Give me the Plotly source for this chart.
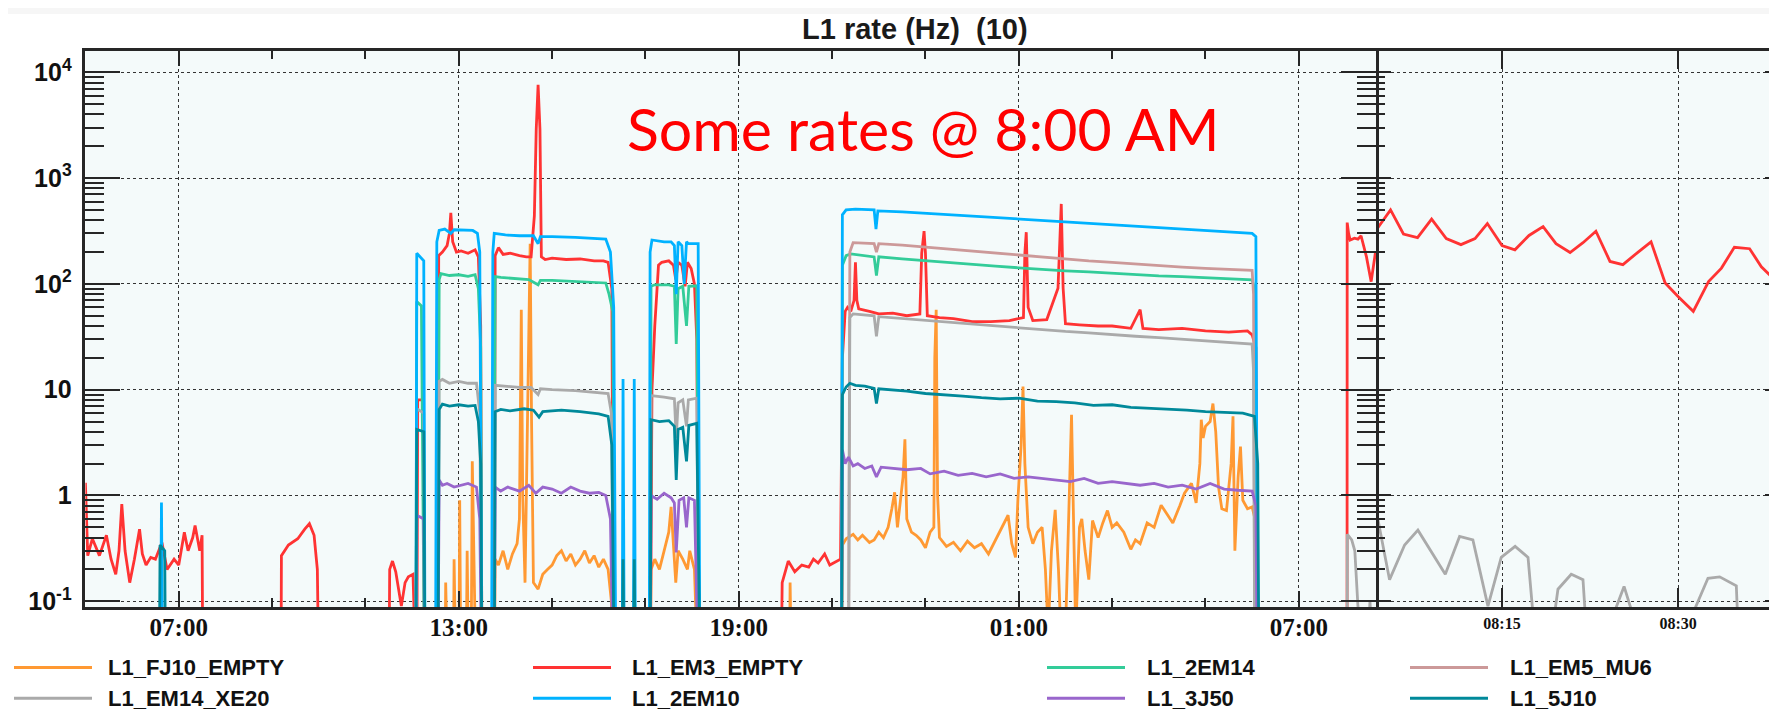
import plotly.graph_objects as go
from datetime import datetime, timedelta

W, H = 1777, 711
BASE = datetime(2015, 6, 1)

# ---------------- data (hours since 00:00 of day 1, rate in Hz) ----------------
names = ["L1_FJ10_EMPTY", "L1_EM3_EMPTY", "L1_2EM14", "L1_EM5_MU6",
         "L1_EM14_XE20", "L1_2EM10", "L1_3J50", "L1_5J10"]
colors = ["#ff9933", "#ff3333", "#33cc99", "#cc9999",
          "#aaaaaa", "#00b2ff", "#9966cc", "#00899a"]
OFF = 0.01  # below the displayed range (rate ~ 0)

fj10_empty = [
    (12.55, OFF), (12.7, OFF), (12.72, 0.15), (12.78, OFF), (12.88, OFF), (12.9, 0.25), (12.95, OFF),
    (13.0, OFF), (13.02, 0.9), (13.05, OFF), (13.15, OFF), (13.18, 0.3), (13.22, OFF), (13.26, OFF),
    (13.29, 2.1), (13.33, 0.2), (13.38, OFF),
    (13.76, OFF), (13.78, 0.25), (13.85, 0.22), (13.95, 0.3), (14.05, 0.2), (14.15, 0.28), (14.25, 0.35),
    (14.3, 0.6), (14.34, 57), (14.37, 1.0), (14.42, 0.15), (14.47, 4), (14.5, 15), (14.53, 240), (14.56, 5),
    (14.6, 0.15), (14.7, 0.13), (14.8, 0.18), (14.9, 0.2), (15.0, 0.22), (15.1, 0.27), (15.2, 0.3),
    (15.3, 0.24), (15.4, 0.28), (15.5, 0.22), (15.6, 0.25), (15.7, 0.3), (15.8, 0.23), (15.9, 0.27),
    (16.0, 0.21), (16.1, 0.25), (16.2, 0.2), (16.27, 0.1), (16.3, OFF),
    (17.1, OFF), (17.12, 0.2), (17.2, 0.25), (17.3, 0.2), (17.4, 0.3), (17.5, 0.45), (17.55, 0.78),
    (17.6, 0.35), (17.65, 0.15), (17.7, 0.3), (17.8, 0.25), (17.9, 0.2), (17.95, 0.3), (18.05, 0.2),
    (18.15, OFF),
    (20.08, OFF), (20.1, 0.15), (20.14, OFF),
    (21.2, OFF), (21.22, 0.34), (21.3, 0.39), (21.45, 0.43), (21.55, 0.38), (21.65, 0.42), (21.8, 0.36),
    (21.9, 0.38), (22.0, 0.45), (22.1, 0.4), (22.2, 0.5), (22.28, 0.75), (22.34, 1.07), (22.4, 0.5),
    (22.45, 0.8), (22.52, 1.5), (22.56, 3.4), (22.6, 0.6), (22.7, 0.45), (22.8, 0.42), (22.9, 0.38),
    (23.0, 0.32), (23.1, 0.45), (23.18, 0.5), (23.2, 20), (23.23, 57), (23.26, 1.0), (23.3, 0.4),
    (23.45, 0.33), (23.6, 0.36), (23.75, 0.3), (23.9, 0.37), (24.05, 0.32), (24.2, 0.35), (24.35, 0.28),
    (24.5, 0.38), (24.65, 0.5), (24.77, 0.65), (24.85, 0.35), (24.93, 0.26), (24.98, 0.9), (25.05, 3),
    (25.09, 10.7), (25.13, 2), (25.2, 0.5), (25.3, 0.35), (25.4, 0.45), (25.5, 0.5), (25.57, 0.2),
    (25.63, 0.05), (25.7, 0.3), (25.78, 0.73), (25.85, 0.2), (25.9, 0.05), (26.0, 0.05), (26.08, 1.0),
    (26.13, 5.8), (26.18, 0.4), (26.22, 0.05), (26.3, 0.5), (26.35, 0.6), (26.42, 0.3), (26.5, 0.16),
    (26.58, 0.58), (26.7, 0.4), (26.8, 0.55), (26.9, 0.72), (27.0, 0.5), (27.1, 0.55), (27.25, 0.45),
    (27.4, 0.31), (27.5, 0.38), (27.6, 0.35), (27.75, 0.55), (27.9, 0.5), (28.05, 0.81), (28.15, 0.7),
    (28.3, 0.55), (28.45, 0.8), (28.55, 1.05), (28.7, 1.3), (28.8, 0.85), (28.88, 2), (28.91, 5.2),
    (28.95, 3.5), (29.0, 4.5), (29.1, 5), (29.16, 7.4), (29.22, 4), (29.28, 1.2), (29.35, 0.75),
    (29.45, 0.72), (29.55, 2), (29.59, 5.6), (29.63, 0.3), (29.7, 1.5), (29.75, 2.9), (29.8, 0.9),
    (29.9, 0.75), (30.0, 0.78), (30.06, 0.6), (30.1, 0.2), (30.12, OFF),
]

em3_empty = [
    (5.0, 1.32), (5.05, 0.27), (5.15, 0.39), (5.3, 0.27), (5.45, 0.42), (5.55, 0.25), (5.65, 0.18),
    (5.72, 0.3), (5.78, 0.83), (5.85, 0.3), (5.95, 0.15), (6.05, 0.25), (6.16, 0.48), (6.22, 0.28),
    (6.3, 0.22), (6.4, 0.26), (6.5, 0.25), (6.64, 0.36), (6.75, 0.2), (6.9, 0.25), (7.0, 0.22),
    (7.12, 0.45), (7.2, 0.3), (7.3, 0.4), (7.35, 0.52), (7.45, 0.3), (7.5, 0.42), (7.52, OFF),
    (9.19, OFF), (9.2, 0.27), (9.35, 0.34), (9.55, 0.39), (9.7, 0.48), (9.8, 0.54), (9.9, 0.42),
    (9.97, 0.2), (10.01, OFF),
    (11.5, OFF), (11.52, 0.2), (11.58, 0.24), (11.65, 0.19), (11.72, 0.12), (11.77, 0.09), (11.85, 0.15),
    (11.92, 0.17), (12.02, 0.18), (12.06, OFF),
    (12.1, OFF), (12.12, 8), (12.24, 8), (12.27, OFF),
    (12.55, OFF), (12.57, 185), (12.65, 200), (12.75, 230), (12.8, 300), (12.83, 470), (12.87, 250),
    (12.95, 200), (13.05, 205), (13.2, 195), (13.35, 210), (13.42, 180), (13.47, 40), (13.5, OFF),
    (13.76, OFF), (13.78, 185), (13.85, 220), (13.95, 190), (14.1, 195), (14.3, 185), (14.45, 180),
    (14.55, 180), (14.62, 440), (14.66, 2900), (14.7, 7600), (14.74, 2900), (14.77, 180), (14.85, 170),
    (15.0, 175), (15.3, 170), (15.6, 172), (15.9, 165), (16.1, 165), (16.2, 160), (16.28, 90),
    (16.32, OFF),
    (17.1, OFF), (17.14, 10), (17.2, 40), (17.28, 150), (17.35, 160), (17.5, 165), (17.6, 150),
    (17.65, 110), (17.7, 160), (17.78, 150), (17.85, 95), (17.9, 160), (17.98, 140), (18.05, 100),
    (18.1, 30), (18.15, OFF),
    (19.9, OFF), (19.93, 0.15), (20.0, 0.2), (20.06, 0.24), (20.2, 0.19), (20.35, 0.22), (20.5, 0.21),
    (20.6, 0.25), (20.7, 0.23), (20.84, 0.28), (20.95, 0.22), (21.1, 0.24), (21.18, 0.25),
    (21.22, 20), (21.28, 55), (21.33, 60), (21.4, 55), (21.47, 70), (21.5, 160), (21.53, 70),
    (21.57, 58), (21.8, 55), (22.0, 52), (22.3, 53), (22.6, 50), (22.88, 52), (22.92, 195), (22.97, 315),
    (23.0, 195), (23.04, 50), (23.3, 48), (23.6, 47), (24.0, 44), (24.4, 44), (24.8, 45), (25.1, 48),
    (25.13, 195), (25.16, 308), (25.2, 60), (25.3, 45), (25.6, 46), (25.84, 91), (25.88, 290),
    (25.91, 570), (25.95, 91), (26.0, 42), (26.3, 41), (26.7, 40), (27.0, 40), (27.4, 38), (27.6, 57),
    (27.66, 38), (28.0, 37), (28.5, 38), (29.0, 36), (29.5, 35), (29.9, 36), (30.0, 33), (30.08, 25),
    (30.12, OFF),
]

twoem14 = [
    (12.08, OFF), (12.1, 68), (12.2, 62), (12.27, OFF),
    (12.55, OFF), (12.58, 110), (12.62, 125), (12.8, 120), (13.0, 122), (13.2, 118), (13.35, 122),
    (13.42, 90), (13.47, 25), (13.5, OFF),
    (13.75, OFF), (13.78, 117), (13.9, 115), (14.2, 112), (14.5, 110), (14.7, 98), (14.75, 108),
    (15.0, 108), (15.5, 106), (16.0, 103), (16.15, 102), (16.22, 80), (16.3, 55), (16.35, OFF),
    (17.1, OFF), (17.12, 95), (17.2, 98), (17.5, 98), (17.62, 95), (17.66, 27), (17.7, 90), (17.8, 95),
    (17.88, 40), (17.93, 95), (18.1, 96), (18.15, OFF),
    (21.2, OFF), (21.22, 150), (21.3, 185), (21.4, 192), (21.9, 180), (21.95, 120), (22.0, 180),
    (22.5, 172), (23.0, 165), (23.5, 158), (24.0, 152), (24.5, 147), (25.0, 142), (25.5, 137),
    (26.0, 133), (26.5, 130), (27.0, 126), (27.5, 123), (28.0, 119), (28.5, 117), (29.0, 114),
    (29.5, 112), (30.0, 109), (30.05, 90), (30.1, OFF),
]

em5_mu6 = [
    (21.35, OFF), (21.38, 200), (21.45, 245), (21.9, 240), (21.95, 200), (22.0, 240), (22.5, 232),
    (23.0, 222), (23.5, 213), (24.0, 203), (24.5, 195), (25.0, 187), (25.5, 178), (26.0, 172),
    (26.5, 165), (27.0, 160), (27.5, 154), (28.0, 149), (28.5, 144), (29.0, 140), (29.5, 137),
    (30.0, 134), (30.03, 80), (30.06, OFF),
]

em14_xe20 = [
    (12.08, OFF), (12.1, 6.6), (12.25, 6.0), (12.28, OFF),
    (12.55, OFF), (12.58, 12), (12.65, 12.5), (12.8, 11.5), (13.0, 12), (13.2, 11.5), (13.38, 11.5),
    (13.45, 6), (13.5, OFF),
    (13.76, OFF), (13.78, 11), (14.0, 10.8), (14.3, 10.5), (14.55, 10.5), (14.7, 9), (14.75, 10.2),
    (15.0, 10), (15.5, 9.8), (16.0, 9.3), (16.2, 9.2), (16.27, 6), (16.33, OFF),
    (17.1, OFF), (17.12, 8.8), (17.4, 8.5), (17.62, 8.2), (17.66, 3.5), (17.7, 7.5), (17.8, 8),
    (17.88, 4.5), (17.92, 8), (18.1, 8.3), (18.15, OFF),
    (21.35, OFF), (21.38, 48), (21.45, 52), (21.9, 50), (21.95, 32), (22.0, 49), (22.5, 47), (23.0, 45),
    (23.5, 43), (24.0, 41.5), (24.5, 40), (25.0, 38.5), (25.5, 37), (26.0, 35.5), (26.5, 34.5),
    (27.0, 33), (27.5, 32), (28.0, 31), (28.5, 30), (29.0, 29), (29.5, 28), (30.0, 27), (30.03, 15),
    (30.06, OFF),
]

twoem10 = [
    (6.6, OFF), (6.63, 0.86), (6.66, OFF),
    (12.08, OFF), (12.1, 195), (12.18, 180), (12.25, 165), (12.28, OFF),
    (12.5, OFF), (12.53, 250), (12.58, 320), (12.7, 330), (12.83, 300), (12.9, 325), (13.1, 325),
    (13.3, 320), (13.4, 300), (13.45, 200), (13.5, OFF),
    (13.7, OFF), (13.73, 200), (13.76, 300), (14.0, 290), (14.3, 285), (14.6, 285), (14.7, 240),
    (14.75, 280), (15.0, 280), (15.5, 275), (16.0, 270), (16.15, 265), (16.25, 200), (16.32, 60),
    (16.37, OFF),
    (16.5, OFF), (16.52, 12.6), (16.55, OFF), (16.74, OFF), (16.76, 12.6), (16.79, OFF),
    (17.08, OFF), (17.1, 200), (17.14, 260), (17.4, 250), (17.55, 250), (17.62, 230), (17.66, 80),
    (17.7, 250), (17.78, 230), (17.83, 100), (17.88, 250), (17.92, 240), (18.0, 240), (18.13, 240),
    (18.17, OFF),
    (21.2, OFF), (21.22, 450), (21.3, 500), (21.5, 510), (21.9, 500), (21.94, 330), (21.98, 490),
    (22.5, 480), (23.0, 465), (23.5, 450), (24.0, 440), (24.5, 425), (25.0, 410), (25.5, 400),
    (26.0, 390), (26.5, 375), (27.0, 365), (27.5, 350), (28.0, 340), (28.5, 330), (29.0, 320),
    (29.5, 310), (30.0, 300), (30.08, 280), (30.12, OFF),
]

threej50 = [
    (12.08, OFF), (12.1, 0.65), (12.25, 0.6), (12.28, OFF),
    (12.55, OFF), (12.58, 1.4), (12.65, 1.25), (12.75, 1.3), (12.9, 1.2), (13.05, 1.25), (13.2, 1.3),
    (13.38, 1.2), (13.45, 0.6), (13.5, OFF),
    (13.76, OFF), (13.78, 1.2), (13.9, 1.1), (14.05, 1.2), (14.3, 1.1), (14.5, 1.25), (14.65, 1.05),
    (14.8, 1.2), (15.0, 1.15), (15.2, 1.05), (15.4, 1.2), (15.6, 1.1), (15.8, 1.05), (16.0, 1.07),
    (16.15, 1.0), (16.25, 0.6), (16.32, OFF),
    (17.1, OFF), (17.12, 1.0), (17.25, 0.92), (17.4, 1.05), (17.55, 0.95), (17.62, 0.85), (17.66, 0.29),
    (17.72, 0.9), (17.82, 0.95), (17.88, 0.5), (17.93, 0.95), (18.05, 0.9), (18.15, OFF),
    (21.2, OFF), (21.22, 2.7), (21.28, 2.0), (21.35, 2.3), (21.45, 1.9), (21.55, 2.0), (21.7, 1.8),
    (21.85, 1.9), (21.95, 1.5), (22.05, 1.85), (22.3, 1.8), (22.6, 1.75), (22.9, 1.8), (23.1, 1.6),
    (23.4, 1.7), (23.7, 1.55), (24.0, 1.62), (24.3, 1.5), (24.6, 1.6), (24.9, 1.45), (25.2, 1.5),
    (25.5, 1.45), (25.8, 1.4), (26.1, 1.35), (26.4, 1.45), (26.7, 1.3), (27.0, 1.35), (27.3, 1.3),
    (27.6, 1.25), (27.9, 1.3), (28.2, 1.2), (28.5, 1.25), (28.8, 1.15), (29.1, 1.3), (29.4, 1.15),
    (29.7, 1.12), (30.0, 1.1), (30.08, 0.8), (30.12, OFF),
]

fivej10 = [
    (6.58, OFF), (6.6, 0.34), (6.7, 0.3), (6.72, OFF),
    (12.08, OFF), (12.1, 4.2), (12.25, 4.0), (12.28, OFF),
    (12.55, OFF), (12.58, 6.5), (12.65, 7.3), (12.8, 7.0), (13.0, 7.2), (13.2, 7.0), (13.35, 7.1),
    (13.42, 5), (13.47, 2), (13.5, OFF),
    (13.76, OFF), (13.78, 6.2), (13.9, 6.5), (14.1, 6.3), (14.4, 6.6), (14.6, 6.4), (14.72, 5.5),
    (14.8, 6.2), (15.2, 6.4), (15.6, 6.2), (16.0, 5.9), (16.2, 5.6), (16.28, 3), (16.34, OFF),
    (16.5, OFF), (16.52, 0.25), (16.55, OFF), (16.74, OFF), (16.76, 0.25), (16.79, OFF),
    (17.1, OFF), (17.12, 5.2), (17.3, 5.0), (17.5, 5.1), (17.62, 4.5), (17.66, 1.4), (17.7, 4.2),
    (17.8, 4.4), (17.88, 2.1), (17.93, 4.6), (18.1, 4.8), (18.18, OFF),
    (21.2, OFF), (21.22, 9), (21.3, 10.6), (21.38, 11.5), (21.5, 11), (21.7, 10.8), (21.9, 10.3),
    (21.95, 7.4), (22.0, 10.2), (22.3, 10), (22.6, 9.7), (23.0, 9.2), (23.4, 9.0), (23.8, 8.7),
    (24.2, 8.4), (24.6, 8.2), (25.0, 8.3), (25.4, 7.8), (25.8, 7.7), (26.2, 7.5), (26.6, 7.1),
    (27.0, 7.2), (27.4, 6.8), (27.8, 6.7), (28.2, 6.5), (28.6, 6.4), (29.0, 6.2), (29.4, 6.1),
    (29.8, 6.0), (30.05, 5.6), (30.12, 2), (30.15, OFF),
]

# last minutes (minutes after 08:00 of day 2)
# fine sampling: right-hand zoom panel
em3_late = [
    (2.0, OFF), (2.2, 380), (3.3, 300), (4.35, 331), (5.5, 500), (6.6, 296), (7.8, 274), (9.0, 410),
    (10.25, 268), (11.5, 235), (12.7, 268), (13.75, 372), (15.0, 230), (16.1, 210), (17.3, 287),
    (18.5, 348), (19.6, 240), (20.8, 198), (21.9, 245), (23.0, 315), (24.2, 163), (25.3, 152),
    (26.6, 200), (27.7, 250), (28.9, 102), (30.0, 76), (31.3, 55), (32.6, 105), (33.7, 141),
    (34.8, 222), (36.1, 215), (37.1, 145), (38.4, 105),
]
em14_xe20_late = [
    (2.0, OFF), (2.3, 0.43), (3.5, 0.35), (4.43, 0.60), (5.43, 0.16), (6.71, 0.34), (7.84, 0.47),
    (10.17, 0.18), (11.39, 0.41), (12.53, 0.38), (13.81, 0.09), (14.94, 0.26), (16.13, 0.33),
    (17.22, 0.26), (17.73, 0.06), (19.35, 0.06), (19.77, 0.13), (20.91, 0.18), (21.9, 0.16),
    (22.16, 0.06), (24.18, 0.06), (25.4, 0.138), (26.42, 0.06), (30.85, 0.06), (32.56, 0.165),
    (33.55, 0.17), (34.97, 0.14), (35.11, 0.06), (38.6, 0.06),
]
# coarse sampling as seen at the end of the long-range panel
em3_late_coarse = [
    (2.0, OFF), (2.2, 380), (4.0, 300), (6.0, 260), (11.5, 270), (16.0, 265), (20.0, 285),
    (27.0, 180), (33.0, 105), (38.6, 200),
]
em14_xe20_late_coarse = [
    (2.0, OFF), (2.4, 0.43), (8.0, 0.38), (12.0, 0.3), (16.0, 0.09), (20.0, 0.06), (30.0, 0.06),
    (31.5, 0.1), (33.0, 0.06), (38.6, 0.06),
]

left_series = [fj10_empty, em3_empty, twoem14, em5_mu6, em14_xe20, twoem10, threej50, fivej10]
late_left = {1: em3_late_coarse, 4: em14_xe20_late_coarse}
late_right = {1: em3_late, 4: em14_xe20_late}

y_ticks = [0.1, 1, 10, 100, 1000, 10000]
y_ticktext = ["10<sup>-1</sup>", "1", "10", "10<sup>2</sup>", "10<sup>3</sup>", "10<sup>4</sup>"]
x_major_h = [7, 13, 19, 25, 31]
x_major_text = ["07:00", "13:00", "19:00", "01:00", "07:00"]
x_minor_h = [9, 11, 15, 17, 21, 23, 27, 29]
x2_major_m = [15, 30]
x2_major_text = ["08:15", "08:30"]


def t(h):
    return (BASE + timedelta(hours=h)).strftime("%Y-%m-%d %H:%M:%S")


def tm(m):  # minutes after 08:00 on day 2
    return t(32 + m / 60.0)


LW = 2.8
fig = go.Figure()

for i, ser in enumerate(left_series):
    xs = [t(h) for h, v in ser]
    ys = [v for h, v in ser]
    if i in late_left:
        xs += [tm(m) for m, v in late_left[i]]
        ys += [v for m, v in late_left[i]]
    fig.add_trace(go.Scatter(x=xs, y=ys, mode="lines", name=names[i],
                             line=dict(color=colors[i], width=LW), xaxis="x", yaxis="y",
                             showlegend=False))

for i, ser in late_right.items():
    fig.add_trace(go.Scatter(x=[tm(m) for m, v in ser], y=[v for m, v in ser], mode="lines",
                             name=names[i], line=dict(color=colors[i], width=LW),
                             xaxis="x2", yaxis="y2", showlegend=False))

# ---------------- layout ----------------
X0, X1 = 77.4, 1368
X2a, X2b = 1371, 1769
YT, YB = 43, 606
ydom = [1 - YB / H, 1 - YT / H]
yrange = [-1.056, 4.206]
minor_y = [m * 10 ** e for e in range(-1, 4) for m in range(2, 10)]
plot_bg = "#f4fafa"
frame = "#262626"
gridc = "#333333"

common_y = dict(type="log", range=yrange, domain=ydom, tickvals=y_ticks,
                showline=True, linecolor=frame, linewidth=2.5, mirror="ticks",
                ticks="inside", tickcolor=frame, tickwidth=2,
                showgrid=True, gridcolor=gridc, griddash="dot", gridwidth=1.3,
                zeroline=False)

fig.update_layout(
    width=W, height=H, autosize=False,
    margin=dict(l=0, r=0, t=0, b=0),
    paper_bgcolor="white", plot_bgcolor=plot_bg,
    showlegend=False,
    xaxis=dict(type="date", domain=[X0 / W, X1 / W], range=[t(5.0), t(32.654)],
               tickvals=[t(h) for h in x_major_h],
               ticktext=["<b>%s</b>" % s for s in x_major_text],
               tickfont=dict(family="Liberation Serif", size=25, color="#111"),
               ticklabelstandoff=-4,
               showline=True, linecolor=frame, linewidth=2.5, mirror="ticks",
               ticks="inside", ticklen=16, tickwidth=2, tickcolor=frame,
               minor=dict(tickvals=[t(h) for h in x_minor_h], ticks="inside", ticklen=9,
                          tickwidth=2, tickcolor=frame, showgrid=False),
               showgrid=True, gridcolor=gridc, griddash="dot", gridwidth=1.3,
               anchor="y", zeroline=False),
    yaxis=dict(**common_y, anchor="x",
               ticktext=["<b>%s</b>" % s for s in y_ticktext],
               tickfont=dict(family="Liberation Sans", size=25, color="#111"),
               ticklen=35, ticklabelstandoff=6,
               minor=dict(tickvals=minor_y, ticks="inside", ticklen=19, tickwidth=2,
                          tickcolor=frame, showgrid=False)),
    xaxis2=dict(type="date", domain=[X2a / W, X2b / W], range=[tm(4.52), tm(38.44)],
                tickvals=[tm(m) for m in x2_major_m],
                ticktext=["<b>%s</b>" % s for s in x2_major_text],
                tickfont=dict(family="Liberation Serif", size=16, color="#111"),
                showline=True, linecolor=frame, linewidth=2.5, mirror="ticks",
                ticks="inside", ticklen=19, tickwidth=2, tickcolor=frame,
                showgrid=True, gridcolor=gridc, griddash="dot", gridwidth=1.3,
                anchor="y2", zeroline=False),
    yaxis2=dict(**common_y, anchor="x2", showticklabels=False, ticklen=12,
                minor=dict(tickvals=minor_y, ticks="inside", ticklen=6, tickwidth=2,
                           tickcolor=frame, showgrid=False)),
)

shapes = [dict(type="rect", xref="paper", yref="paper", x0=0, x1=1, y0=1 - 6 / H, y1=1,
               fillcolor="#f6f6f6", line=dict(width=0), layer="below")]
annotations = [
    dict(text="<b>L1 rate (Hz)  (10)</b>", xref="paper", yref="paper", x=907 / W, y=1 - 21 / H,
         xanchor="center", yanchor="middle", showarrow=False,
         font=dict(family="Liberation Sans", size=29, color="#1a1a1a")),
    dict(text="Some rates @ 8:00 AM", xref="paper", yref="paper", x=915 / W, y=1 - 122 / H,
         xanchor="center", yanchor="middle", showarrow=False,
         font=dict(family="Lato", size=59, color="#ff0000")),
]

# legend (4 columns x 2 rows)
leg_line_x = [6, 525, 1039, 1402]
leg_text_x = [98, 622, 1137, 1500]
leg_row_y = [667, 698]
for i, nm in enumerate(names):
    c, r = i % 4, i // 4
    yy = 1 - leg_row_y[r] / H
    shapes.append(dict(type="line", xref="paper", yref="paper",
                       x0=leg_line_x[c] / W, x1=(leg_line_x[c] + 78) / W, y0=yy, y1=yy,
                       line=dict(color=colors[i], width=3)))
    annotations.append(dict(text="<b>%s</b>" % nm, xref="paper", yref="paper",
                            x=leg_text_x[c] / W, y=yy, xanchor="left", yanchor="middle",
                            showarrow=False,
                            font=dict(family="Liberation Sans", size=22, color="#111")))

fig.update_layout(shapes=shapes, annotations=annotations)
fig.write_html("out.html")
